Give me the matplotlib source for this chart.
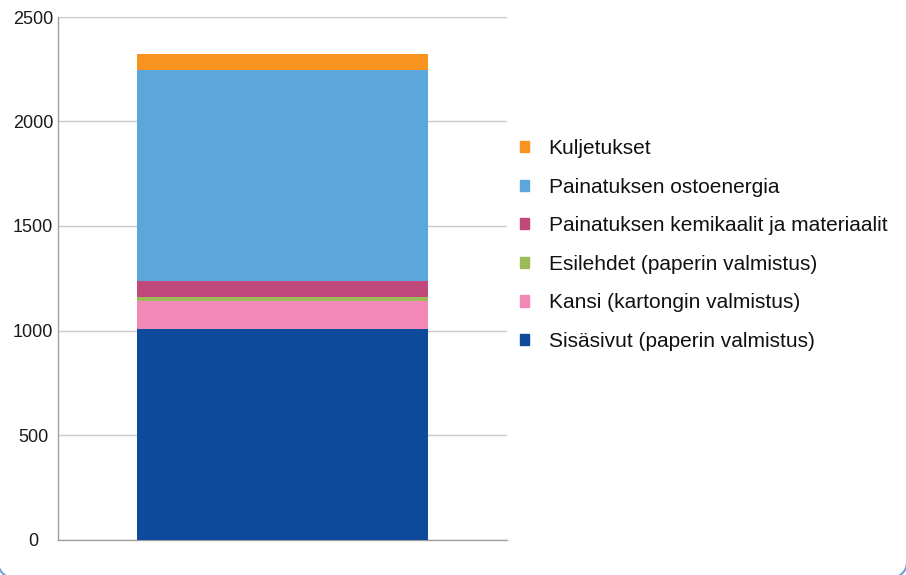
import matplotlib
matplotlib.use("Agg")
import numpy as np
import matplotlib.pyplot as plt
import matplotlib.patches as mpatches
from matplotlib.lines import Line2D
from matplotlib.transforms import IdentityTransform

# Data (bottom to top)
categories = ["Sisäsivut (paperin valmistus)",
              "Kansi (kartongin valmistus)",
              "Esilehdet (paperin valmistus)",
              "Painatuksen kemikaalit ja materiaalit",
              "Painatuksen ostoenergia",
              "Kuljetukset"]
values = [1006, 134, 19, 77, 1010, 75]
colors = ["#0D4A9B", "#F288B5", "#9BBB59", "#C0487A", "#5BA7DB", "#F7931E"]
yticks = [0, 500, 1000, 1500, 2000, 2500]

plt.rcParams['font.family'] = ['Liberation Sans', 'DejaVu Sans']

W, H = 906, 575
fig = plt.figure(figsize=(W / 100, H / 100), dpi=100)
ax = fig.add_axes([58 / W, (H - 539.5) / H, (507 - 58) / W, (539.5 - 17) / H])

bottom = 0
for cat, v, c in zip(categories, values, colors):
    ax.bar(0, v, width=0.6486, bottom=bottom, color=c, label=cat, zorder=3, linewidth=0)
    bottom += v

ax.set_xlim(-0.5, 0.5)
ax.set_ylim(0, 2500)
ax.set_yticks(yticks)
ax.set_yticklabels([str(t) for t in yticks])
ax.set_xticks([])
ax.tick_params(axis='y', length=0, pad=18, labelsize=13, labelcolor='#1a1a1a')
for lbl in ax.get_yticklabels():
    lbl.set_horizontalalignment('center')
ax.yaxis.grid(True, color='#c8c8c8', linewidth=1.0, zorder=0)
for s in ['top', 'right']:
    ax.spines[s].set_visible(False)
ax.spines['left'].set_color('#a0a0a0')
ax.spines['bottom'].set_color('#a0a0a0')
ax.spines['left'].set_linewidth(1.0)
ax.spines['bottom'].set_linewidth(1.0)

leg_handles = [mpatches.Patch(color=c) for c in colors][::-1]
leg = fig.legend(leg_handles, categories[::-1], loc='upper left',
                 bbox_to_anchor=(520 / W, (H - 139) / H), frameon=False,
                 fontsize=15, handlelength=0.45, handleheight=0.45,
                 handletextpad=0.93, labelspacing=0.94, borderpad=0, borderaxespad=0)
for t in leg.get_texts():
    t.set_color('#111111')

# rounded frame corners (only the bottom corners fall inside the image)
r = 16.0
xl, xr, yb = -2.0, 907.0, -3.0
t1 = np.linspace(np.pi, 1.5 * np.pi, 40)
t2 = np.linspace(1.5 * np.pi, 2.0 * np.pi, 40)
for cx, cy, tt in [(xl + r, yb + r, t1), (xr - r, yb + r, t2)]:
    ln = Line2D(cx + r * np.cos(tt), cy + r * np.sin(tt), transform=IdentityTransform(),
                color='#6f9fd8', linewidth=1.5, solid_capstyle='butt')
    ln.set_snap(False)
    fig.lines.append(ln)

fig.savefig("out.png", dpi=100)
